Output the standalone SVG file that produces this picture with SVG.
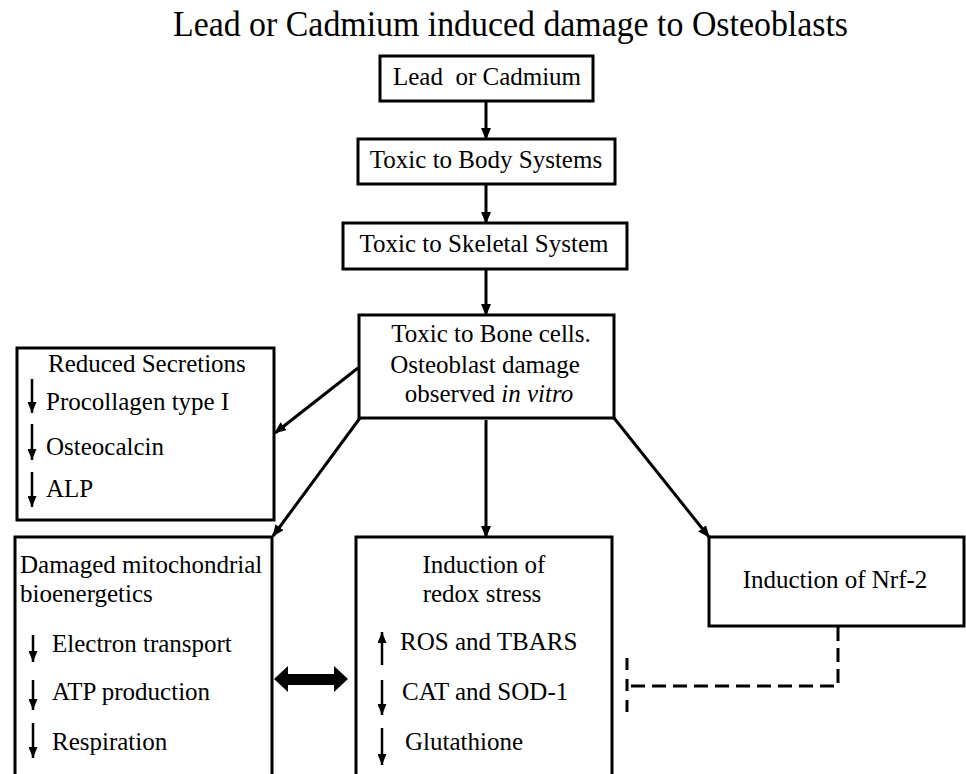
<svg xmlns="http://www.w3.org/2000/svg" width="966" height="774" viewBox="0 0 966 774">
<style>
.box{fill:#fff;stroke:#000;stroke-width:3}
.t{font-family:"Liberation Serif","Times New Roman",serif;font-size:25px;fill:#000}
.c{text-anchor:middle}
.conn{stroke:#000;stroke-width:3;fill:none}
.dash{stroke:#000;stroke-width:3;fill:none;stroke-dasharray:14 7}
.ga{stroke:#000;stroke-width:2.5;fill:none}
</style>
<defs>
<marker id="ah" markerUnits="userSpaceOnUse" markerWidth="12" markerHeight="10" refX="11" refY="5" orient="auto">
<path d="M0,0 L12,5 L0,10 z" fill="#000"/>
</marker>
<marker id="sh" markerUnits="userSpaceOnUse" markerWidth="11" markerHeight="9" refX="11" refY="4.5" orient="auto">
<path d="M0,0 L11,4.5 L0,9 z" fill="#000"/>
</marker>
</defs>
<rect width="966" height="774" fill="#fff"/>
<text class="t" x="173" y="36" style="font-size:36px" textLength="675" lengthAdjust="spacingAndGlyphs">Lead or Cadmium induced damage to Osteoblasts</text>

<g id="connectors">
<line class="conn" x1="486" y1="101" x2="486" y2="139" marker-end="url(#ah)"/>
<line class="conn" x1="486" y1="184" x2="486" y2="223" marker-end="url(#ah)"/>
<line class="conn" x1="486" y1="269" x2="486" y2="315" marker-end="url(#ah)"/>
<line class="conn" x1="358" y1="368" x2="275" y2="433" marker-end="url(#ah)"/>
<line class="conn" x1="360" y1="418" x2="273" y2="536" marker-end="url(#ah)"/>
<line class="conn" x1="486" y1="420" x2="486" y2="537" marker-end="url(#ah)"/>
<line class="conn" x1="614" y1="418" x2="709" y2="537" marker-end="url(#ah)"/>
<polygon points="274,679 288,666 288,674 334,674 334,666 348,679 334,692 334,685 288,685 288,692" fill="#000"/>
<polyline class="dash" points="838,627 838,686 628,686"/>
<line class="dash" x1="627" y1="658" x2="627" y2="714" style="stroke-dasharray:12 9"/>
</g>

<g id="n1"><rect class="box" x="380" y="56" width="213" height="45"/>
<text class="t c" x="487" y="85" xml:space="preserve">Lead  or Cadmium</text></g>
<g id="n2"><rect class="box" x="358" y="139" width="257" height="45"/>
<text class="t c" x="486" y="168">Toxic to Body Systems</text></g>
<g id="n3"><rect class="box" x="343" y="223" width="284" height="46"/>
<text class="t c" x="484" y="252">Toxic to Skeletal System</text></g>
<g id="n4"><rect class="box" x="359" y="315" width="255" height="103"/>
<text class="t c" x="491" y="342">Toxic to Bone cells.</text>
<text class="t c" x="485" y="373">Osteoblast damage</text>
<text class="t c" x="489" y="402">observed <tspan font-style="italic">in vitro</tspan></text></g>

<g id="n5"><rect class="box" x="17" y="348" width="257" height="172"/>
<text class="t" x="48" y="372">Reduced Secretions</text>
<line class="ga" x1="32" y1="379" x2="32" y2="413" marker-end="url(#sh)"/>
<text class="t" x="46" y="410">Procollagen type I</text>
<line class="ga" x1="32" y1="424" x2="32" y2="460" marker-end="url(#sh)"/>
<text class="t" x="46" y="455">Osteocalcin</text>
<line class="ga" x1="32" y1="472" x2="32" y2="507" marker-end="url(#sh)"/>
<text class="t" x="46" y="497">ALP</text></g>

<g id="n6"><rect class="box" x="15" y="537" width="257" height="250"/>
<text class="t" x="20" y="573">Damaged mitochondrial</text>
<text class="t" x="20" y="602">bioenergetics</text>
<line class="ga" x1="33" y1="635" x2="33" y2="662" marker-end="url(#sh)"/>
<text class="t" x="52" y="652">Electron transport</text>
<line class="ga" x1="33" y1="680" x2="33" y2="710" marker-end="url(#sh)"/>
<text class="t" x="52" y="700">ATP production</text>
<line class="ga" x1="33" y1="723" x2="33" y2="758" marker-end="url(#sh)"/>
<text class="t" x="52" y="750">Respiration</text></g>

<g id="n7"><rect class="box" x="356" y="537" width="256" height="250"/>
<text class="t c" x="484" y="573">Induction of</text>
<text class="t c" x="482" y="602">redox stress</text>
<line class="ga" x1="382" y1="665" x2="382" y2="632" marker-end="url(#sh)"/>
<text class="t" x="400" y="650">ROS and TBARS</text>
<line class="ga" x1="382" y1="680" x2="382" y2="715" marker-end="url(#sh)"/>
<text class="t" x="402" y="700">CAT and SOD-1</text>
<line class="ga" x1="382" y1="728" x2="382" y2="765" marker-end="url(#sh)"/>
<text class="t" x="405" y="750">Glutathione</text></g>

<g id="n8"><rect class="box" x="709" y="537" width="255" height="89"/>
<text class="t c" x="835" y="588">Induction of Nrf-2</text></g>
</svg>
